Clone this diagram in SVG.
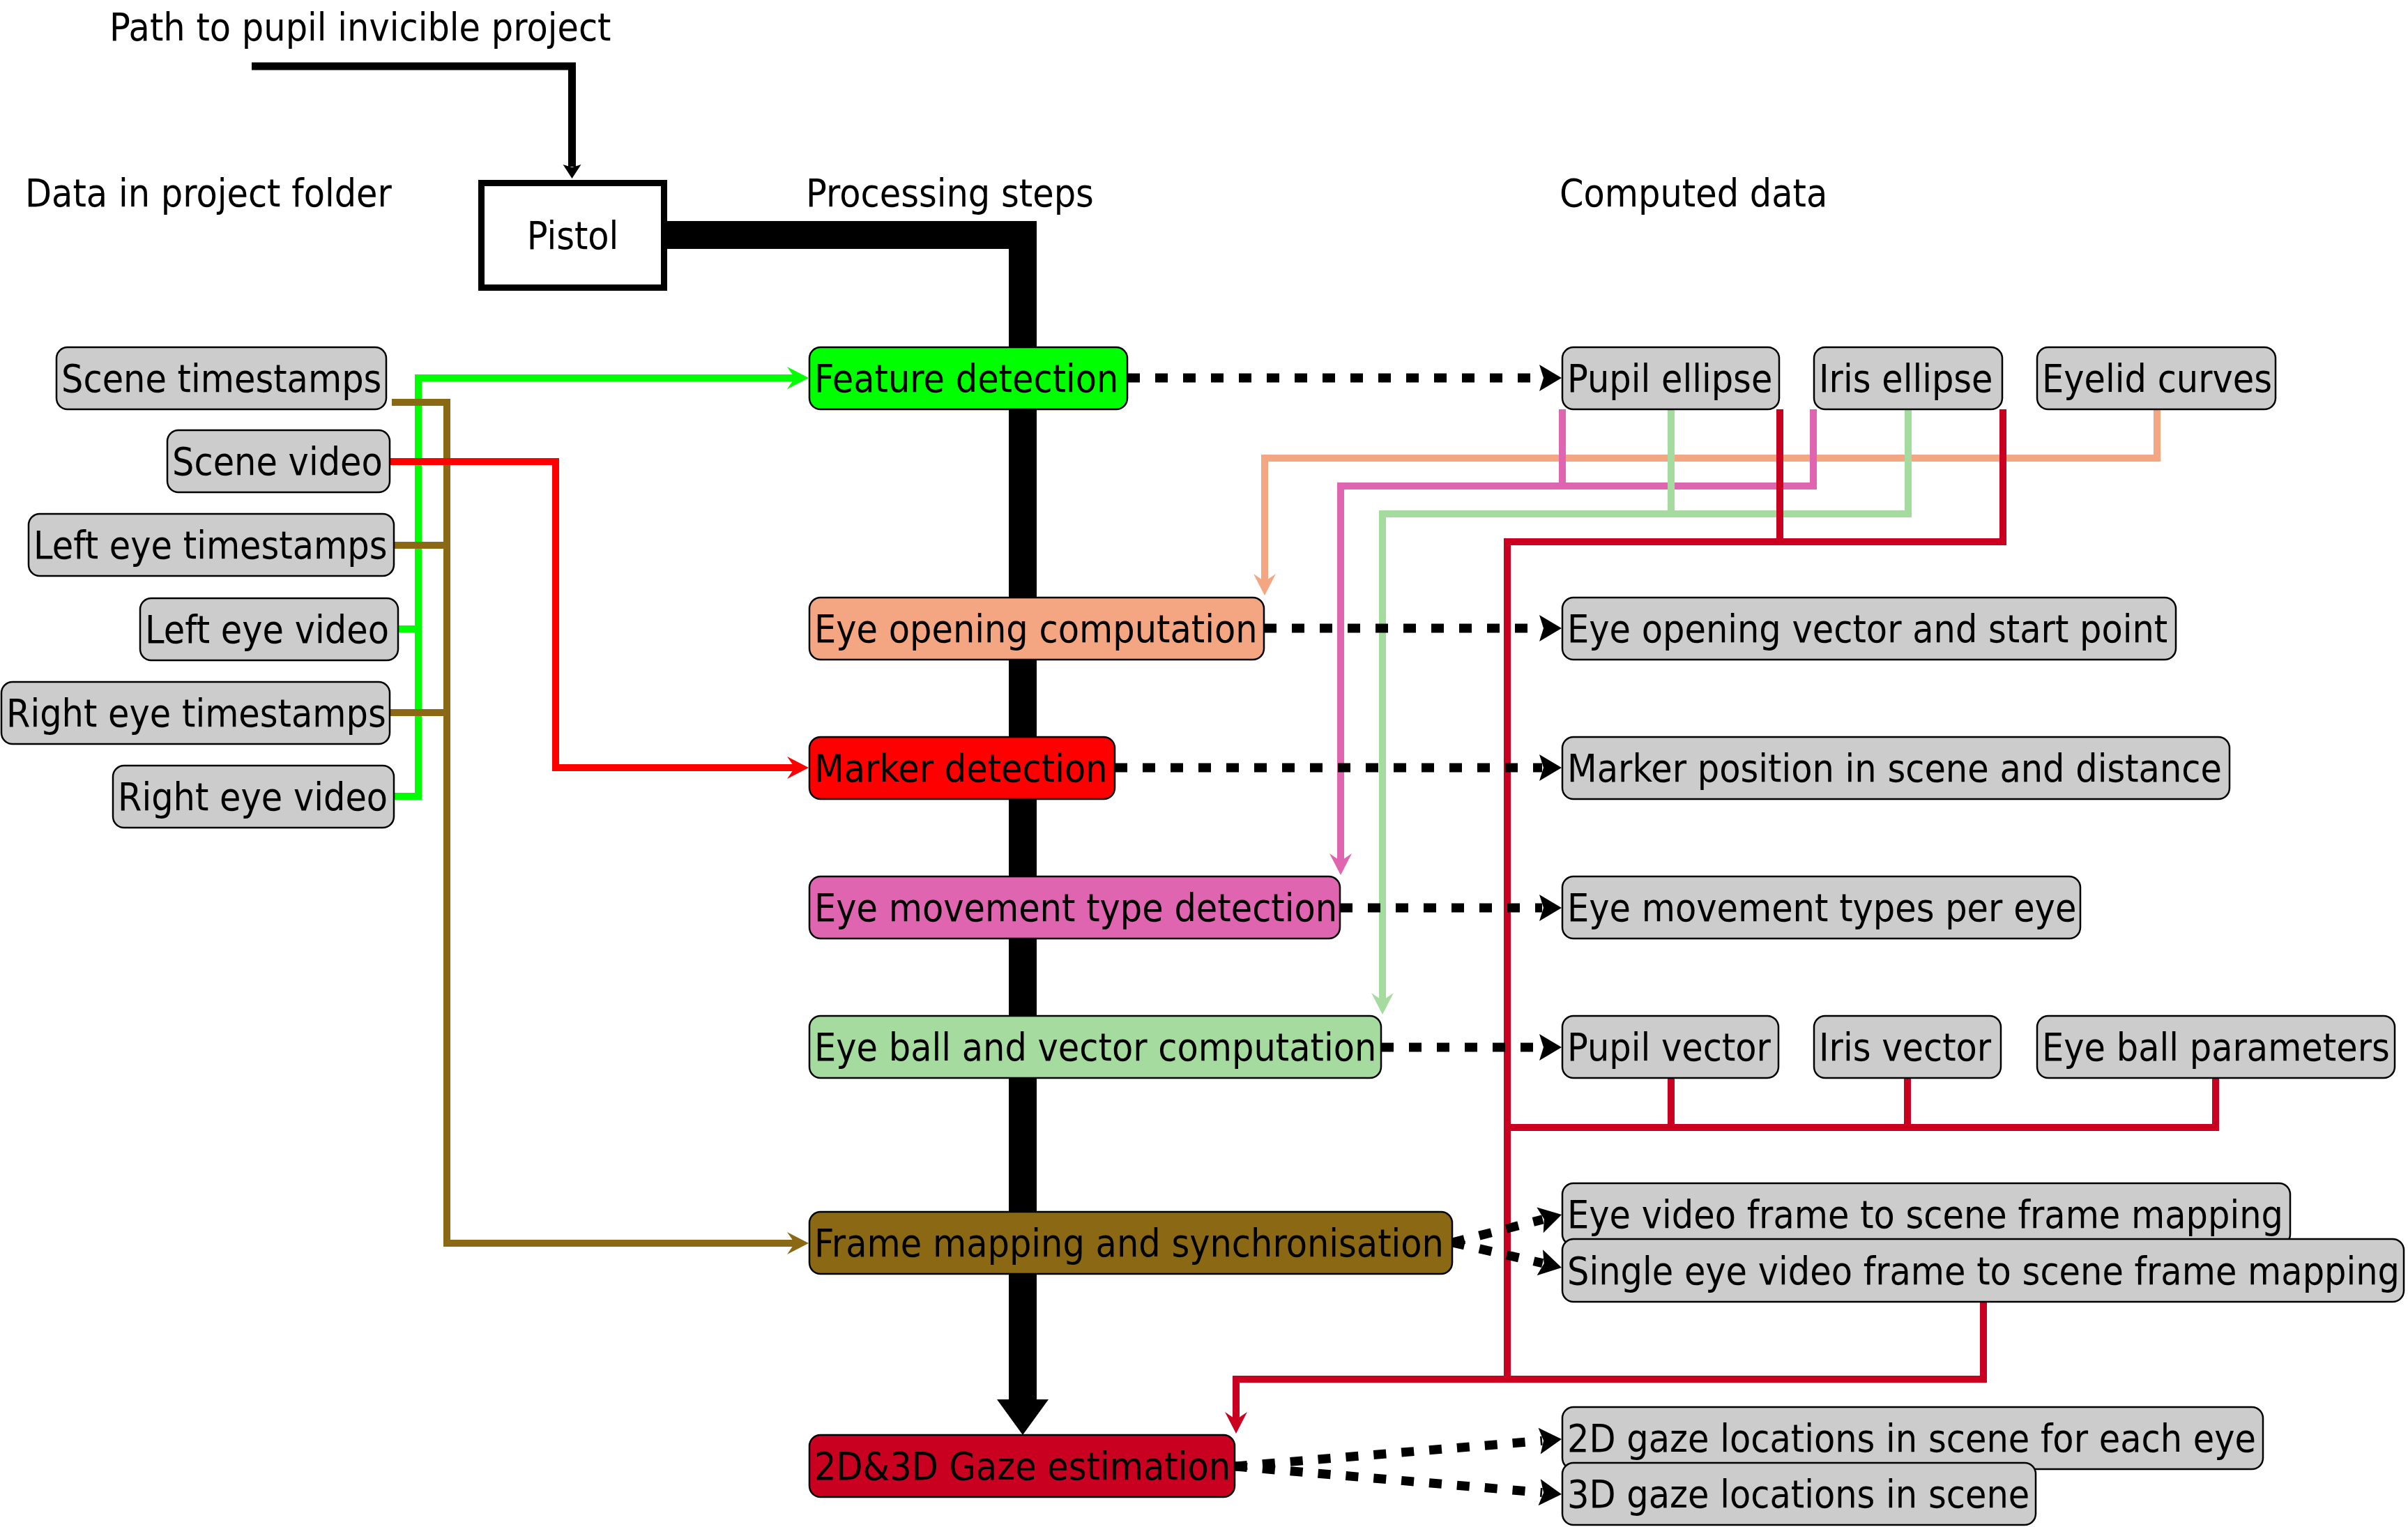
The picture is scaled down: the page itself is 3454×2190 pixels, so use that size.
<svg xmlns="http://www.w3.org/2000/svg" width="3454" height="2190" viewBox="0 0 3454 2190">
<defs>
<style>
text { font-family: "DejaVu Sans", Verdana, sans-serif; font-size: 55px; fill: #000; }
.box { stroke: #000; stroke-width: 2.5; }
.data { fill: #cccccc; }
.c { fill: none; stroke-width: 10; stroke-linejoin: miter; stroke-linecap: butt; }
.dash { fill: none; stroke: #000; stroke-width: 13; stroke-dasharray: 18 22; }
</style>
<marker id="aGreen" markerUnits="userSpaceOnUse" orient="auto" overflow="visible" markerWidth="60" markerHeight="60" refX="0" refY="0"><path d="M20,0 L-11,-16 L0,0 L-11,16 Z" fill="#00ff00"/></marker>
<marker id="aBrown" markerUnits="userSpaceOnUse" orient="auto" overflow="visible" markerWidth="60" markerHeight="60" refX="0" refY="0"><path d="M20,0 L-11,-16 L0,0 L-11,16 Z" fill="#8b6914"/></marker>
<marker id="aRed" markerUnits="userSpaceOnUse" orient="auto" overflow="visible" markerWidth="60" markerHeight="60" refX="0" refY="0"><path d="M20,0 L-11,-16 L0,0 L-11,16 Z" fill="#ff0000"/></marker>
<marker id="aSalmon" markerUnits="userSpaceOnUse" orient="auto" overflow="visible" markerWidth="60" markerHeight="60" refX="0" refY="0"><path d="M20,0 L-11,-16 L0,0 L-11,16 Z" fill="#f4a582"/></marker>
<marker id="aPink" markerUnits="userSpaceOnUse" orient="auto" overflow="visible" markerWidth="60" markerHeight="60" refX="0" refY="0"><path d="M20,0 L-11,-16 L0,0 L-11,16 Z" fill="#df65b0"/></marker>
<marker id="aLGreen" markerUnits="userSpaceOnUse" orient="auto" overflow="visible" markerWidth="60" markerHeight="60" refX="0" refY="0"><path d="M20,0 L-11,-16 L0,0 L-11,16 Z" fill="#a6dba0"/></marker>
<marker id="aCrimson" markerUnits="userSpaceOnUse" orient="auto" overflow="visible" markerWidth="60" markerHeight="60" refX="0" refY="0"><path d="M20,0 L-11,-16 L0,0 L-11,16 Z" fill="#ca0020"/></marker>
<marker id="aDash" markerUnits="userSpaceOnUse" orient="auto" overflow="visible" markerWidth="60" markerHeight="60" refX="0" refY="0"><path d="M28,0 L-4,-19 L2,0 L-4,19 Z" fill="#000"/></marker>
<marker id="aThin" markerUnits="userSpaceOnUse" orient="auto" overflow="visible" markerWidth="60" markerHeight="60" refX="0" refY="0"><path d="M17,0 L-3,-13 L1,0 L-3,13 Z" fill="#000"/></marker>
<marker id="aThick" markerUnits="userSpaceOnUse" orient="auto" overflow="visible" markerWidth="120" markerHeight="120" refX="0" refY="0"><path d="M0,-37 L51,0 L0,37 Z" fill="#000"/></marker>
</defs>
<rect width="3454" height="2190" fill="#ffffff"/>

<g id="headers">
<text transform="translate(157,58) scale(0.9,1)">Path to pupil invicible project</text>
<text transform="translate(36,296) scale(0.9,1)">Data in project folder</text>
<text transform="translate(1156,296) scale(0.9,1)">Processing steps</text>
<text transform="translate(2237,296) scale(0.9,1)">Computed data</text>
</g>

<g id="connectors">
<path d="M361,95 H820.5 V239" fill="none" stroke="#000" stroke-width="11" marker-end="url(#aThin)"/>
<path d="M957,337 H1467 V2007" fill="none" stroke="#000" stroke-width="40" stroke-linejoin="miter" marker-end="url(#aThick)"/>

<path class="c" stroke="#00ff00" d="M571,902 H600"/>
<path class="c" stroke="#00ff00" d="M565,1142 H600 V542 H1140" marker-end="url(#aGreen)"/>

<path class="c" stroke="#8b6914" d="M565,782 H641"/>
<path class="c" stroke="#8b6914" d="M559,1022 H641"/>
<path class="c" stroke="#8b6914" d="M562,577 H641 V1783 H1140" marker-end="url(#aBrown)"/>

<path class="c" stroke="#ff0000" d="M559,662 H797 V1101 H1140" marker-end="url(#aRed)"/>

<path class="c" stroke="#f4a582" d="M3094,587 V657 H1814 V834" marker-end="url(#aSalmon)"/>

<path class="c" stroke="#df65b0" d="M2241,587 V697"/>
<path class="c" stroke="#df65b0" d="M2601,587 V697 H1923 V1235" marker-end="url(#aPink)"/>

<path class="c" stroke="#a6dba0" d="M2397,587 V737"/>
<path class="c" stroke="#a6dba0" d="M2737,587 V737 H1983 V1435" marker-end="url(#aLGreen)"/>

<path class="c" stroke="#ca0020" d="M2553,587 V777"/>
<path class="c" stroke="#ca0020" d="M2873,587 V777 H2162 V1978"/>
<path class="c" stroke="#ca0020" d="M2397,1547 V1617"/>
<path class="c" stroke="#ca0020" d="M2736,1547 V1617"/>
<path class="c" stroke="#ca0020" d="M3178,1547 V1617 H2162"/>
<path class="c" stroke="#ca0020" d="M2845,1868 V1978 H1773 V2036" marker-end="url(#aCrimson)"/>

<path class="dash" d="M1617,542 H2212" marker-end="url(#aDash)"/>
<path class="dash" d="M1813,901 H2212" marker-end="url(#aDash)"/>
<path class="dash" d="M1599,1101 H2212" marker-end="url(#aDash)"/>
<path class="dash" d="M1922,1302 H2212" marker-end="url(#aDash)"/>
<path class="dash" d="M1981,1502 H2212" marker-end="url(#aDash)"/>
<path class="dash" d="M2083,1782 L2212.9,1748.9" marker-end="url(#aDash)"/>
<path class="dash" d="M2083,1782 L2212.7,1811.7" marker-end="url(#aDash)"/>
<path class="dash" d="M1771,2103 L2212.1,2066.3" marker-end="url(#aDash)"/>
<path class="dash" d="M1771,2103 L2212.1,2140.6" marker-end="url(#aDash)"/>
</g>

<g id="pistol">
<rect x="690.5" y="262.5" width="262" height="150" fill="#fff" stroke="#000" stroke-width="9"/>
<text transform="translate(821.5,357) scale(0.9,1)" text-anchor="middle">Pistol</text>
</g>

<g id="scene-timestamps"><rect class="box data" x="81" y="498" width="473" height="89" rx="16"/><text transform="translate(88,562) scale(0.9,1)">Scene timestamps</text></g>
<g id="scene-video"><rect class="box data" x="240" y="617" width="319" height="89" rx="16"/><text transform="translate(247,681) scale(0.9,1)">Scene video</text></g>
<g id="left-eye-timestamps"><rect class="box data" x="41" y="737" width="524" height="89" rx="16"/><text transform="translate(48,801) scale(0.9,1)">Left eye timestamps</text></g>
<g id="left-eye-video"><rect class="box data" x="201" y="858" width="370" height="89" rx="16"/><text transform="translate(208,922) scale(0.9,1)">Left eye video</text></g>
<g id="right-eye-timestamps"><rect class="box data" x="2" y="978" width="557" height="89" rx="16"/><text transform="translate(9,1042) scale(0.9,1)">Right eye timestamps</text></g>
<g id="right-eye-video"><rect class="box data" x="162" y="1098" width="403" height="89" rx="16"/><text transform="translate(169,1162) scale(0.9,1)">Right eye video</text></g>

<g id="feature-detection"><rect class="box" fill="#00ff00" x="1161" y="498" width="456" height="89" rx="16"/><text transform="translate(1168,562) scale(0.9,1)">Feature detection</text></g>
<g id="eye-opening-computation"><rect class="box" fill="#f4a582" x="1161" y="857" width="652" height="89" rx="16"/><text transform="translate(1168,921) scale(0.9,1)">Eye opening computation</text></g>
<g id="marker-detection"><rect class="box" fill="#ff0000" x="1161" y="1057" width="438" height="89" rx="16"/><text transform="translate(1168,1121) scale(0.9,1)">Marker detection</text></g>
<g id="eye-movement-type-detection"><rect class="box" fill="#df65b0" x="1161" y="1257" width="761" height="89" rx="16"/><text transform="translate(1168,1321) scale(0.9,1)">Eye movement type detection</text></g>
<g id="eye-ball-vector-computation"><rect class="box" fill="#a6dba0" x="1161" y="1457" width="820" height="89" rx="16"/><text transform="translate(1168,1521) scale(0.9,1)">Eye ball and vector computation</text></g>
<g id="frame-mapping"><rect class="box" fill="#8b6914" x="1161" y="1738" width="922" height="89" rx="16"/><text transform="translate(1168,1802) scale(0.9,1)">Frame mapping and synchronisation</text></g>
<g id="gaze-estimation"><rect class="box" fill="#ca0020" x="1161" y="2058" width="610" height="89" rx="16"/><text transform="translate(1168,2122) scale(0.9,1)">2D&amp;3D Gaze estimation</text></g>

<g id="pupil-ellipse"><rect class="box data" x="2241" y="498" width="311" height="89" rx="16"/><text transform="translate(2248,562) scale(0.9,1)">Pupil ellipse</text></g>
<g id="iris-ellipse"><rect class="box data" x="2602" y="498" width="270" height="89" rx="16"/><text transform="translate(2609,562) scale(0.9,1)">Iris ellipse</text></g>
<g id="eyelid-curves"><rect class="box data" x="2922" y="498" width="342" height="89" rx="16"/><text transform="translate(2929,562) scale(0.9,1)">Eyelid curves</text></g>
<g id="eye-opening-vector"><rect class="box data" x="2241" y="857" width="880" height="89" rx="16"/><text transform="translate(2248,921) scale(0.9,1)">Eye opening vector and start point</text></g>
<g id="marker-position"><rect class="box data" x="2241" y="1057" width="957" height="89" rx="16"/><text transform="translate(2248,1121) scale(0.9,1)">Marker position in scene and distance</text></g>
<g id="eye-movement-types"><rect class="box data" x="2241" y="1257" width="743" height="89" rx="16"/><text transform="translate(2248,1321) scale(0.9,1)">Eye movement types per eye</text></g>
<g id="pupil-vector"><rect class="box data" x="2241" y="1457" width="310" height="89" rx="16"/><text transform="translate(2248,1521) scale(0.9,1)">Pupil vector</text></g>
<g id="iris-vector"><rect class="box data" x="2602" y="1457" width="268" height="89" rx="16"/><text transform="translate(2609,1521) scale(0.9,1)">Iris vector</text></g>
<g id="eye-ball-parameters"><rect class="box data" x="2922" y="1457" width="513" height="89" rx="16"/><text transform="translate(2929,1521) scale(0.9,1)">Eye ball parameters</text></g>
<g id="eye-video-frame-mapping"><rect class="box data" x="2241" y="1697" width="1044" height="89" rx="16"/><text transform="translate(2248,1761) scale(0.9,1)">Eye video frame to scene frame mapping</text></g>
<g id="single-eye-frame-mapping"><rect class="box data" x="2241" y="1777" width="1207" height="90" rx="16"/><text transform="translate(2248,1842) scale(0.9,1)">Single eye video frame to scene frame mapping</text></g>
<g id="gaze-2d"><rect class="box data" x="2241" y="2018" width="1005" height="89" rx="16"/><text transform="translate(2248,2082) scale(0.9,1)">2D gaze locations in scene for each eye</text></g>
<g id="gaze-3d"><rect class="box data" x="2241" y="2098" width="679" height="89" rx="16"/><text transform="translate(2248,2162) scale(0.9,1)">3D gaze locations in scene</text></g>
</svg>
